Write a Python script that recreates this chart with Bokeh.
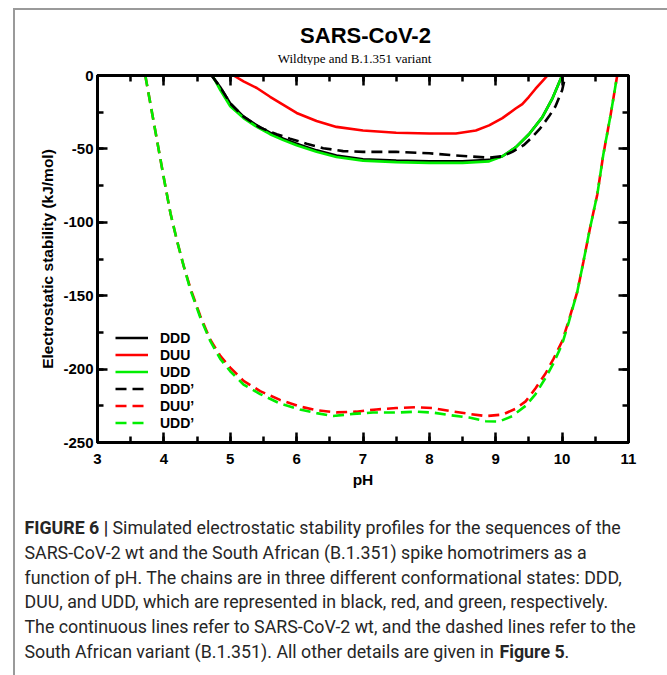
from bokeh.plotting import figure
from bokeh.layouts import column
from bokeh.models import (Range1d, LinearAxis, SingleIntervalTicker, Legend,
                          LegendItem, Label, PrintfTickFormatter)
from bokeh.embed import file_html
from bokeh.resources import INLINE

# ---------------- data ----------------
ph_ddd = [4.72, 4.85, 5.0, 5.2, 5.4, 5.6, 5.8, 6.0, 6.3, 6.6, 7.0, 7.5, 8.0,
          8.5, 8.9, 9.1, 9.3, 9.5, 9.7, 9.85, 10.0]
ddd = [0, -8, -19, -28, -34, -39, -43, -46.5, -51, -54.5, -57, -58, -58.5,
       -58.5, -57.5, -55, -49, -40, -28.5, -16, 0]

ph_duu = [5.05, 5.2, 5.4, 5.6, 5.8, 6.0, 6.3, 6.6, 7.0, 7.5, 8.0, 8.4, 8.7,
          8.9, 9.1, 9.3, 9.4, 9.5, 9.6, 9.7, 9.78]
duu = [0, -4, -8.5, -14.5, -20, -25.5, -31, -35, -37.5, -39, -39.5, -39.5,
       -37.5, -34, -29, -22.5, -19.5, -14.5, -9, -4, 0]

ph_udd = [4.73, 4.85, 5.0, 5.2, 5.4, 5.6, 5.8, 6.0, 6.3, 6.6, 7.0, 7.5, 8.0,
          8.5, 8.9, 9.1, 9.3, 9.5, 9.7, 9.85, 10.0]
udd = [0, -10, -21, -29, -35, -40, -44, -47.5, -52, -55.5, -58, -59, -59.5,
       -59.5, -58.5, -55, -49, -40, -28.5, -16, 0]

ph_ddd_v = [4.72, 4.85, 5.0, 5.2, 5.45, 5.7, 5.9, 6.15, 6.4, 6.7, 7.0, 7.5,
            8.0, 8.4, 8.9, 9.1, 9.25, 9.42, 9.55, 9.67, 9.8, 9.9, 10.0, 10.05]
ddd_v = [0, -8, -19, -28, -35.5, -40, -43, -46.5, -49.5, -51.5, -52, -52,
         -53, -54.5, -56, -55, -52, -47.5, -42, -36, -28, -21, -10, 0]

ph_duu_v = [3.72, 3.8, 3.9, 4.0, 4.1, 4.2, 4.3, 4.4, 4.55, 4.7, 4.85, 5.0,
            5.2, 5.45, 5.75, 6.05, 6.3, 6.6, 6.9, 7.2, 7.5, 7.8, 8.05, 8.3,
            8.6, 8.85, 9.1, 9.3, 9.45, 9.6, 9.75, 9.87, 10.0, 10.1, 10.23,
            10.32, 10.42, 10.53, 10.62, 10.73, 10.8, 10.83]
duu_v = [0, -20, -45, -70, -94, -113, -130, -145, -164, -180, -191, -199,
         -208, -215, -221, -225.5, -228, -229.5, -229, -227.5, -226.5, -226,
         -226.5, -228.5, -230.5, -232, -231, -227, -222, -213, -203, -193,
         -181, -167, -147, -127, -104, -81, -54, -27, -8, 0]

ph_udd_v = [3.72, 3.8, 3.9, 4.0, 4.1, 4.2, 4.3, 4.4, 4.55, 4.7, 4.85, 5.0,
            5.2, 5.45, 5.75, 6.05, 6.3, 6.55, 6.85, 7.15, 7.5, 7.8, 8.05, 8.3,
            8.6, 8.85, 9.05, 9.25, 9.45, 9.6, 9.75, 9.87, 10.0, 10.1, 10.23,
            10.32, 10.42, 10.53, 10.62, 10.73, 10.8, 10.83]
udd_v = [0, -20, -45, -70, -94, -113, -130, -146, -165, -181, -193, -201.5,
         -210.5, -217, -223.5, -227.5, -230, -232, -230.5, -229.6, -229.6,
         -229, -229.6, -231.3, -233, -235.5, -235.7, -232, -225, -217, -206,
         -196, -183, -168, -147, -127, -104, -81, -54, -27, -8, 0]

labels = ["DDD", "DUU", "UDD", "DDD\u2019", "DUU\u2019", "UDD\u2019"]
colors = ["#000000", "#ff0000", "#00ee00", "#000000", "#ff0000", "#00ee00"]

title_text = "SARS-CoV-2"
subtitle_text = "Wildtype and B.1.351 variant"
caption_head = "FIGURE 6 |"
caption_first = "Simulated electrostatic stability profiles for the sequences of the"
caption_lines = [
    "SARS-CoV-2 wt and the South African (B.1.351) spike homotrimers as a",
    "function of pH. The chains are in three different conformational states: DDD,",
    "DUU, and UDD, which are represented in black, red, and green, respectively.",
    "The continuous lines refer to SARS-CoV-2 wt, and the dashed lines refer to the",
]
caption_last = "South African variant (B.1.351). All other details are given in"
caption_ref = "Figure 5"

FONT = "Liberation Sans"
W = 652
OX = 15  # page x of the strips' left edge (inside the grey box)

# ---------------- top strip: title + subtitle ----------------
TOP_H = 55
p_top = figure(width=W, height=TOP_H, output_backend="svg", toolbar_location=None,
               x_range=Range1d(0, W), y_range=Range1d(TOP_H, 0),
               x_axis_type=None, y_axis_type=None, min_border=0,
               frame_align=False)
p_top.grid.visible = False
p_top.outline_line_color = None
p_top.add_layout(Label(x=365 - OX, y=25, text=title_text, text_align="center",
                       text_baseline="middle", text_font=FONT,
                       text_font_style="bold", text_font_size="22px",
                       text_color="black"))
p_top.add_layout(Label(x=354 - OX, y=48, text=subtitle_text, text_align="center",
                       text_baseline="middle", text_font="Liberation Serif",
                       text_font_size="13px", text_color="black"))

# ---------------- main chart ----------------
MAIN_H = 425
p = figure(width=W, height=MAIN_H, output_backend="svg", toolbar_location=None,
           x_range=Range1d(3, 11), y_range=Range1d(-250, 0),
           x_axis_type=None, y_axis_type=None,
           min_border_left=82, min_border_right=39,
           min_border_top=10, min_border_bottom=47, frame_align=False)
p.xgrid.visible = False
p.ygrid.visible = False
p.outline_line_color = "black"
p.outline_line_width = 3
p.background_fill_color = "white"
p.border_fill_color = "white"


def style_axis(ax, show_labels):
    ax.axis_line_color = "black"
    ax.axis_line_width = 3
    ax.major_tick_in = 10
    ax.major_tick_out = 0
    ax.minor_tick_in = 6
    ax.minor_tick_out = 0
    ax.major_tick_line_width = 2.5
    ax.minor_tick_line_width = 2.5
    ax.formatter = PrintfTickFormatter(format="%d")
    ax.major_label_text_font = FONT
    ax.major_label_text_font_style = "bold"
    ax.major_label_text_font_size = "15px" if show_labels else "0px"
    ax.major_label_text_color = "black"
    if not show_labels:
        ax.major_label_standoff = 0
    ax.axis_label_text_font = FONT
    ax.axis_label_text_font_style = "bold"
    ax.axis_label_text_font_size = "15.5px"
    ax.axis_label_text_color = "black"


xb = LinearAxis(ticker=SingleIntervalTicker(interval=1, num_minor_ticks=2),
                axis_label="pH")
style_axis(xb, True)
xb.major_label_standoff = 11
xb.axis_label_standoff = 4
p.add_layout(xb, "below")

xt = LinearAxis(ticker=SingleIntervalTicker(interval=1, num_minor_ticks=2))
style_axis(xt, False)
p.add_layout(xt, "above")

yl = LinearAxis(ticker=SingleIntervalTicker(interval=50, num_minor_ticks=2),
                axis_label="Electrostatic stability (kJ/mol)")
style_axis(yl, True)
yl.major_label_standoff = 4
yl.axis_label_standoff = 4
p.add_layout(yl, "left")

yr = LinearAxis(ticker=SingleIntervalTicker(interval=50, num_minor_ticks=2))
style_axis(yr, False)
p.add_layout(yr, "right")

series = [(ph_ddd, ddd), (ph_duu, duu), (ph_udd, udd),
          (ph_ddd_v, ddd_v), (ph_duu_v, duu_v), (ph_udd_v, udd_v)]
renderers = []
for i, (xs, ys) in enumerate(series):
    dash = "solid" if i < 3 else "11 6"
    r = p.line(xs, ys, line_color=colors[i], line_width=2.6, line_dash=dash)
    renderers.append(r)

legend = Legend(items=[LegendItem(label=labels[i], renderers=[renderers[i]])
                       for i in range(6)],
                location=(18, 11))
legend.background_fill_alpha = 0
legend.border_line_color = None
legend.padding = 0
legend.margin = 0
legend.spacing = 0
legend.glyph_width = 33
legend.glyph_height = 17
legend.label_height = 17
legend.label_standoff = 12
legend.label_text_font = FONT
legend.label_text_font_style = "bold"
legend.label_text_font_size = "14px"
legend.label_text_color = "black"
p.add_layout(legend)

# ---------------- caption ----------------
CAP_H = 185
p_cap = figure(width=W, height=CAP_H, output_backend="svg", toolbar_location=None,
               x_range=Range1d(0, W), y_range=Range1d(CAP_H, 0),
               x_axis_type=None, y_axis_type=None, min_border=0,
               frame_align=False)
p_cap.grid.visible = False
p_cap.outline_line_color = None

CAP_FONT = "Roboto"
CAP_SIZE = "17.8px"
CAP_COLOR = "#262626"
cap_x = 24 - OX
line_y = [37, 62, 87, 111, 136, 161]


def cap_label(x, y, t, bold=False):
    p_cap.add_layout(Label(x=x, y=y, text=t, text_baseline="middle",
                           text_font=CAP_FONT,
                           text_font_style="bold" if bold else "normal",
                           text_font_size=CAP_SIZE, text_color=CAP_COLOR))


cap_label(cap_x, line_y[0], caption_head, bold=True)
cap_label(112 - OX, line_y[0], caption_first)
for k, t in enumerate(caption_lines):
    cap_label(cap_x, line_y[k + 1], t)
cap_label(cap_x, line_y[5], caption_last)
cap_label(499 - OX, line_y[5], caption_ref, bold=True)
cap_label(564 - OX, line_y[5], ".")

root = column(p_top, p, p_cap, spacing=0, margin=(8, 0, 0, 13),
              styles={"border-top": "2px solid #9a9a9a",
                      "border-left": "2px solid #9a9a9a"})

open("out.html", "w").write(file_html(root, INLINE))
